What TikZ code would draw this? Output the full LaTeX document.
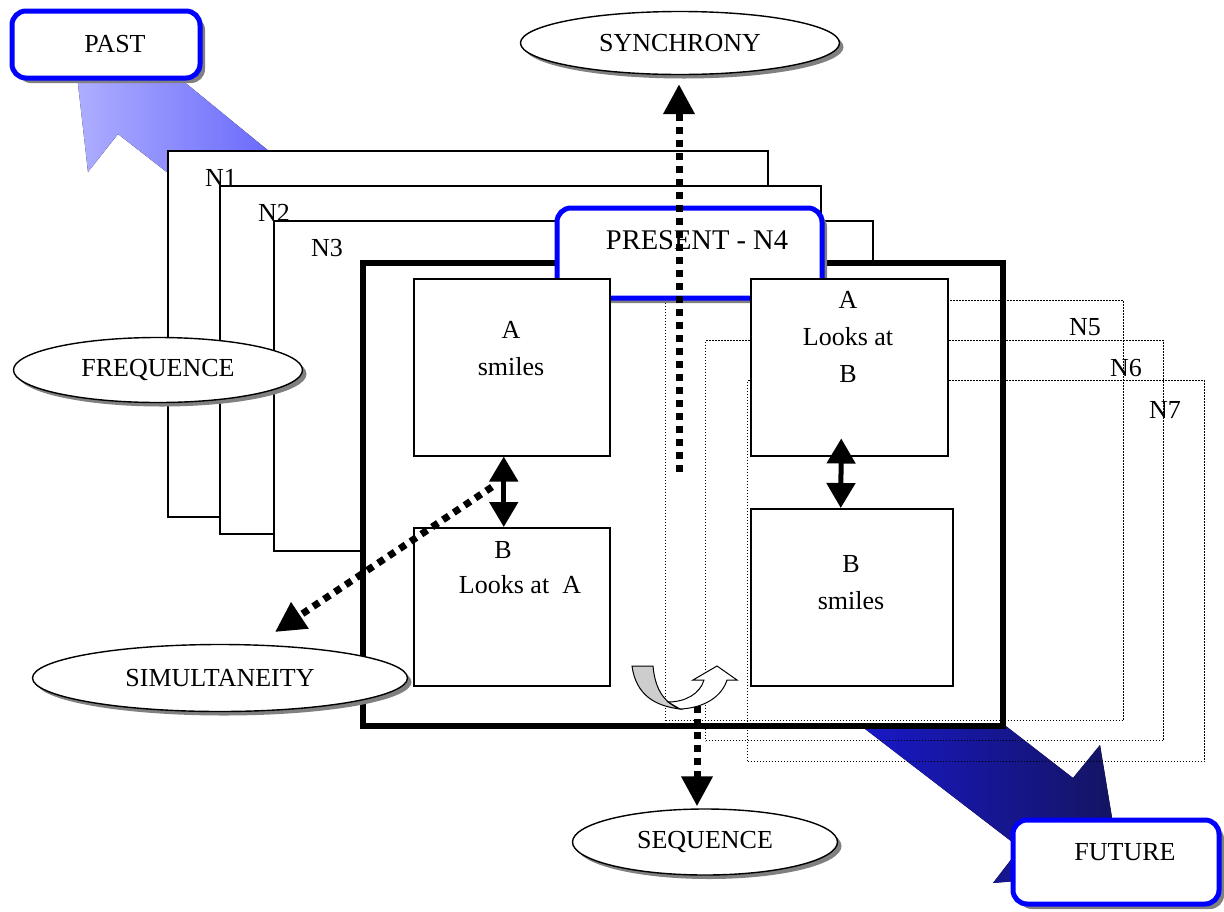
\documentclass[tikz,border=0pt]{standalone}
\usepackage{fontspec}
\setmainfont{Liberation Serif}
\usetikzlibrary{arrows.meta,shapes.geometric,shadows}
\definecolor{pastA}{RGB}{175,175,255}
\definecolor{pastB}{RGB}{85,85,250}
\definecolor{futA}{RGB}{25,25,225}
\definecolor{futB}{RGB}{20,20,95}
\definecolor{shadowgray}{RGB}{128,128,128}
\definecolor{backgray}{RGB}{205,205,205}
\begin{document}
\begin{tikzpicture}[x=1pt,y=-1pt,
  lbl/.style={font=\fontsize{26}{37}\selectfont, align=center, inner sep=0pt},
  oval/.style={ellipse, draw, line width=1.4pt, fill=white,
    drop shadow={shadow xshift=4pt,shadow yshift=-4pt,fill=shadowgray,opacity=1},
    font=\fontsize{26}{30}\selectfont, inner sep=0pt},
  timebox/.style={rectangle, rounded corners=14pt, draw=blue, line width=5pt, fill=white,
    drop shadow={shadow xshift=5pt,shadow yshift=-5pt,fill=shadowgray,opacity=1}, inner sep=0pt},
  layer/.style={rectangle, draw, line width=1.5pt, fill=white, inner sep=0pt, anchor=north west},
  ghost/.style={rectangle, draw, line width=1.2pt, dash pattern=on 1.3pt off 1.7pt, inner sep=0pt, anchor=north west},
  ev/.style={rectangle, draw, line width=1.5pt, fill=white, inner sep=0pt, anchor=north west},
  dotarrow/.style={line width=7pt, dash pattern=on 7pt off 6pt, -{Triangle[width=30pt,length=30pt]}},
  dbl/.style={line width=5pt, {Triangle[width=28pt,length=25pt]}-{Triangle[width=28pt,length=25pt]}}
]
\useasboundingbox (0,0) rectangle (1224,911);

% big shaded arrows (behind everything)
\fill[left color=pastA, right color=pastB]
  (73,40) -- (88,172) -- (118,134) -- (300,276) -- (330,201) -- (150,54) -- cycle;
\fill[left color=futA, right color=futB]
  (940,675) -- (1073,778) -- (1100,745) -- (1121,872) -- (993,883) -- (1020,848) -- (800,679) -- cycle;

% stacked layers
\node[layer, minimum width=600pt, minimum height=366pt] (n1) at (167,150) {};
\node[layer, minimum width=601pt, minimum height=348pt] (n2) at (219,185) {};
\node[layer, minimum width=599pt, minimum height=330pt] (n3) at (273,220) {};
\node[layer, line width=5.5pt, minimum width=640pt, minimum height=463pt] (n4) at (360,260) {};

% future layers (dotted)
\node[ghost, minimum width=458pt, minimum height=420pt] (n5) at (665,300) {};
\node[ghost, minimum width=458pt, minimum height=400pt] (n6) at (705,340) {};
\node[ghost, minimum width=457pt, minimum height=381pt] (n7) at (747,380) {};

% present box
\node[timebox, minimum width=265pt, minimum height=90pt] (present) at (689.5,253) {};
\node[lbl, font=\fontsize{28.5}{34}\selectfont] (presentt) at (697,240) {PRESENT - N4};

% event boxes
\node[ev, minimum width=196pt, minimum height=177pt] (as) at (413,278) {};
\node[ev, minimum width=196pt, minimum height=158pt] (bl) at (413,527) {};
\node[ev, minimum width=197pt, minimum height=177pt] (ab) at (750,278) {};
\node[ev, minimum width=202pt, minimum height=177pt] (bs) at (750,508) {};
\node[lbl] (ast) at (511,349) {A\\smiles};
\node[lbl] (blt1) at (503,550) {B};
\node[lbl] (blt2) at (520,585) {Looks at~ A};
\node[lbl] (abt) at (848,337) {A\\Looks at\\B};
\node[lbl] (bst) at (851,583) {B\\smiles};

% layer labels
\node[lbl] (l1) at (221,178) {N1};
\node[lbl] (l2) at (274,213) {N2};
\node[lbl] (l3) at (327,248) {N3};
\node[lbl] (l5) at (1085,327) {N5};
\node[lbl] (l6) at (1126,368) {N6};
\node[lbl] (l7) at (1165,410) {N7};

% ellipses
\node[oval, minimum width=319pt, minimum height=63pt] (syn) at (680,43) {SYNCHRONY};
\node[oval, minimum width=289pt, minimum height=65pt] (freq) at (158,370) {FREQUENCE};
\node[oval, minimum width=375pt, minimum height=67pt] (sim) at (220,678) {SIMULTANEITY};
\node[oval, minimum width=265pt, minimum height=66pt] (seq) at (705,842) {SEQUENCE};

% connectors
\draw[dbl] ([xshift=-8pt]as.south) -- ([xshift=-8pt]bl.north);
\draw[dbl] ([xshift=-8pt,yshift=18pt]ab.south) -- ([xshift=-11pt]bs.north);
\coordinate (synA) at (679,472);
\draw[dotarrow, shorten >=9pt] (synA) -- ([xshift=-1pt]syn.south);
\coordinate (seqA) at (697,693);
\draw[dotarrow, shorten >=2pt] (seqA) -- ([xshift=-8pt]seq.north);
\coordinate (simA) at (492,487);
\coordinate (simB) at (275,632);
\draw[dotarrow] (simA) -- (simB);

% curved arrow
\draw[line width=1pt, fill=backgray]
  (632,666) -- (653,666) .. controls (655,688) and (663,702) .. (680,709)
  .. controls (655,706) and (636,695) .. (632,666) -- cycle;
\draw[line width=1pt, fill=white]
  (668,702) .. controls (685,702) and (700,694) .. (704,680) -- (693,680) -- (717,666)
  -- (737,680) -- (727,680) .. controls (722,696) and (705,708) .. (680,709) -- cycle;

% time boxes
\node[timebox, minimum width=188pt, minimum height=67pt] (past) at (106,44.5) {};
\node[lbl] (pastt) at (115,44) {PAST};
\node[timebox, minimum width=206pt, minimum height=84pt] (future) at (1116,862) {};
\node[lbl] (futuret) at (1125,852) {FUTURE};
\end{tikzpicture}
\end{document}
